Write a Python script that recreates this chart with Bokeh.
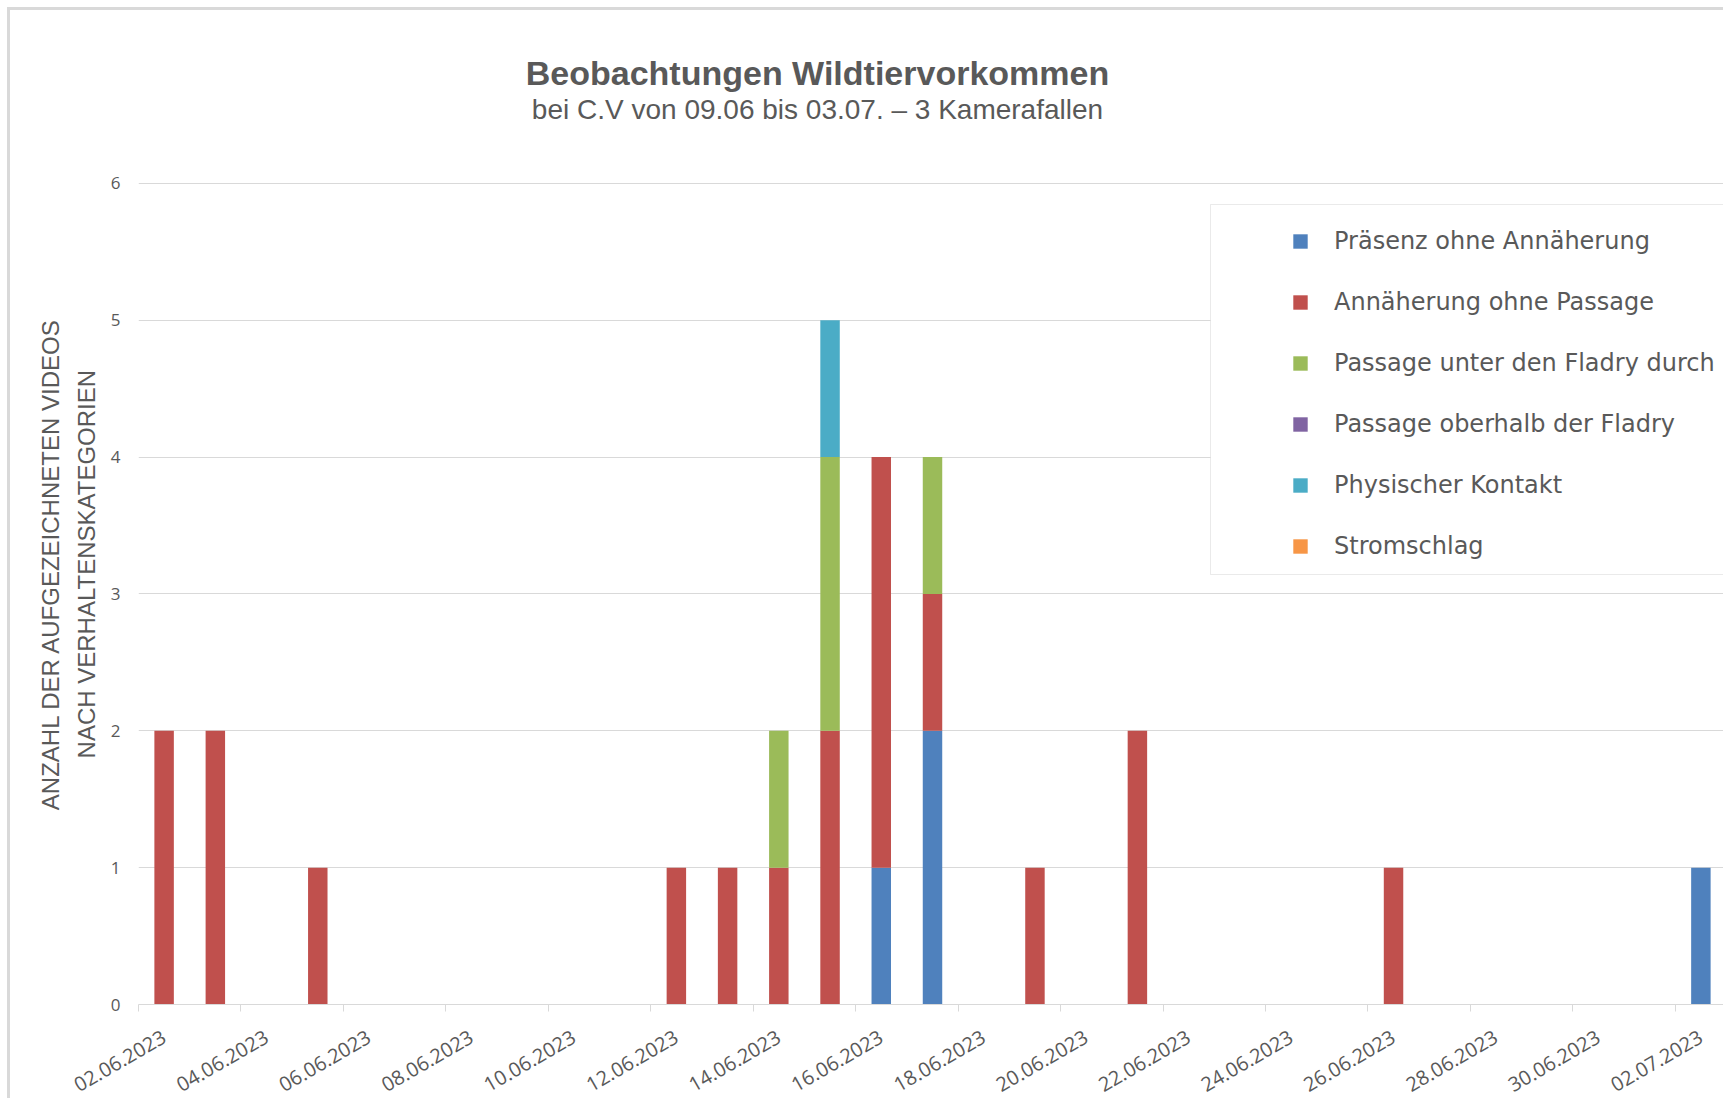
import math
import pandas as pd
from bokeh.plotting import figure
from bokeh.models import (Range1d, FixedTicker, DatetimeTickFormatter, Label,
                          Legend, LegendItem, ColumnDataSource, BoxAnnotation)
from bokeh.embed import file_html
from bokeh.resources import INLINE

# ---------------- data ----------------
dates = ["02.06.2023", "03.06.2023", "05.06.2023", "12.06.2023", "13.06.2023",
         "14.06.2023", "15.06.2023", "16.06.2023", "17.06.2023", "19.06.2023",
         "21.06.2023", "26.06.2023", "02.07.2023"]
praesenz_ohne_annaeherung = [0, 0, 0, 0, 0, 0, 0, 1, 2, 0, 0, 0, 1]
annaeherung_ohne_passage = [2, 2, 1, 1, 1, 1, 2, 3, 1, 1, 2, 1, 0]
passage_unter_fladry = [0, 0, 0, 0, 0, 1, 2, 0, 1, 0, 0, 0, 0]
passage_oberhalb_fladry = [0, 0, 0, 0, 0, 0, 0, 0, 0, 0, 0, 0, 0]
physischer_kontakt = [0, 0, 0, 0, 0, 0, 1, 0, 0, 0, 0, 0, 0]
stromschlag = [0, 0, 0, 0, 0, 0, 0, 0, 0, 0, 0, 0, 0]

series_names = ["Präsenz ohne Annäherung", "Annäherung ohne Passage",
                "Passage unter den Fladry durch", "Passage oberhalb der Fladry",
                "Physischer Kontakt", "Stromschlag"]
series_keys = ["s0", "s1", "s2", "s3", "s4", "s5"]
colors = ["#4F81BD", "#C0504D", "#9BBB59", "#8064A2", "#4BACC6", "#F79646"]

tick_labels = ["02.06.2023", "04.06.2023", "06.06.2023", "08.06.2023", "10.06.2023",
               "12.06.2023", "14.06.2023", "16.06.2023", "18.06.2023", "20.06.2023",
               "22.06.2023", "24.06.2023", "26.06.2023", "28.06.2023", "30.06.2023",
               "02.07.2023"]
y_ticks = [0, 1, 2, 3, 4, 5, 6]
axis_start = "02.06.2023"
axis_end = "02.07.2023"

title_text = "Beobachtungen Wildtiervorkommen"
subtitle_text = "bei C.V von 09.06 bis 03.07. \u2013 3 Kamerafallen"
y_label_lines = ["ANZAHL DER AUFGEZEICHNETEN VIDEOS", "NACH VERHALTENSKATEGORIEN"]

# ---------------- build ----------------
x = pd.to_datetime(dates, format="%d.%m.%Y")
src = ColumnDataSource(dict(
    x=x,
    s0=praesenz_ohne_annaeherung, s1=annaeherung_ohne_passage,
    s2=passage_unter_fladry, s3=passage_oberhalb_fladry,
    s4=physischer_kontakt, s5=stromschlag))

DAY = 86400000.0
half = pd.Timedelta(hours=12)
x0 = pd.to_datetime(axis_start, format="%d.%m.%Y") - half
x1 = pd.to_datetime(axis_end, format="%d.%m.%Y") + half

ticks_dt = pd.to_datetime(tick_labels, format="%d.%m.%Y")
ticks_ms = [t.value / 1e6 for t in ticks_dt]
minor_ms = [(t - half).value / 1e6 for t in ticks_dt]

GRAY = "#595959"
LIGHT = "#d9d9d9"

# frame extends up to the top of the chart so the titles live inside it
Y_TOP = 7.263

p = figure(width=1716, height=1091, x_axis_type="datetime",
           x_range=Range1d(x0, x1), y_range=Range1d(0, Y_TOP),
           output_backend="svg", toolbar_location=None,
           min_border_left=128, min_border_right=0,
           min_border_top=0, min_border_bottom=90)
p.title.visible = False
p.outline_line_color = None
p.background_fill_color = "white"
p.border_fill_color = "white"
p.styles = {"margin-left": "7px", "margin-top": "7px",
            "border-left": "3px solid #d9d9d9", "border-top": "3px solid #d9d9d9"}

renderers = p.vbar_stack(series_keys, x="x", width=0.38 * DAY, source=src,
                         color=colors, line_color=None)

# titles (screen units relative to the plot frame's lower-left corner)
p.add_layout(Label(x=679, y=932, x_units="screen", y_units="screen",
                   text=title_text, text_align="center", text_baseline="middle",
                   text_font="Liberation Sans", text_font_size="34px",
                   text_font_style="bold", text_color=GRAY))
p.add_layout(Label(x=679, y=895, x_units="screen", y_units="screen",
                   text=subtitle_text, text_align="center", text_baseline="middle",
                   text_font="Liberation Sans", text_font_size="28px",
                   text_color=GRAY))

# x axis
xa = p.xaxis[0]
xa.ticker = FixedTicker(ticks=ticks_ms, minor_ticks=minor_ms)
xa.formatter = DatetimeTickFormatter(days="%d.%m.%Y", months="%d.%m.%Y",
                                     years="%d.%m.%Y", hours="%d.%m.%Y",
                                     hourmin="%d.%m.%Y", minutes="%d.%m.%Y")
xa.major_label_orientation = math.pi / 6
xa.major_label_text_font = "Open Sans"
xa.major_label_text_font_size = "20px"
xa.major_label_text_color = GRAY
xa.major_label_standoff = 24
xa.axis_line_color = LIGHT
xa.major_tick_line_color = None
xa.minor_tick_line_color = LIGHT
xa.minor_tick_out = 7
xa.minor_tick_in = 0

# y axis
ya = p.yaxis[0]
ya.ticker = FixedTicker(ticks=y_ticks)
ya.axis_line_color = None
ya.major_tick_line_color = None
ya.minor_tick_line_color = None
ya.major_label_text_font = "Open Sans"
ya.major_label_text_font_size = "17px"
ya.major_label_text_color = GRAY
ya.major_label_standoff = 12
# trailing no-break spaces move the label block down next to the 0..6 scale
pad = "\u00a0" * 17
ya.axis_label = "\n".join(line + pad for line in y_label_lines)
ya.axis_label_text_font = "Liberation Sans"
ya.axis_label_text_font_size = "24px"
ya.axis_label_text_font_style = "normal"
ya.axis_label_text_line_height = 1.34
ya.axis_label_text_color = GRAY
ya.axis_label_standoff = 8

p.xgrid.grid_line_color = None
p.ygrid.grid_line_color = LIGHT
p.ygrid.grid_line_width = 1

# legend box and legend
p.add_layout(BoxAnnotation(left=1072, right=1700, top=800, bottom=430,
                           left_units="screen", right_units="screen",
                           top_units="screen", bottom_units="screen",
                           fill_color="white", fill_alpha=1.0,
                           line_color="#b8b8b8", line_width=1))
items = [LegendItem(label=n, renderers=[r]) for n, r in zip(series_names, renderers)]
legend = Legend(items=items, location=(1153, 444), padding=12, spacing=33,
                glyph_width=18, glyph_height=18, label_standoff=25,
                label_text_font="DejaVu Sans", label_text_font_size="24px",
                label_text_color=GRAY, border_line_color=None,
                background_fill_alpha=0.0, margin=0)
p.add_layout(legend, "center")

open("out.html", "w").write(file_html(p, INLINE))
